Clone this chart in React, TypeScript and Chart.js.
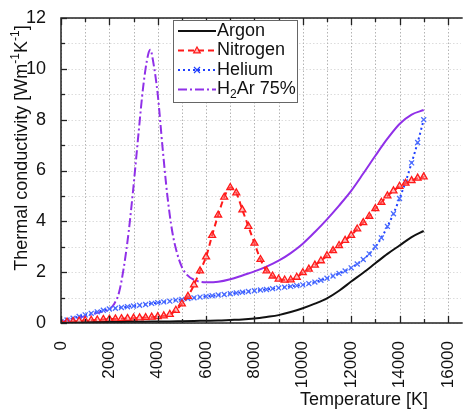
import React, { useEffect, useRef } from "react";
import { Chart, registerables } from "chart.js";
Chart.register(...registerables);

const FONT = "'Liberation Sans', Arial, Helvetica, sans-serif";

// Temperature grids [K]
const T_FINE = [0, 250, 500, 750, 1000, 1250, 1500, 1750, 2000, 2250, 2500, 2750, 3000, 3250, 3500, 3750, 4000, 4250, 4500, 4750, 5000, 5250, 5500, 5750, 6000, 6250, 6500, 6750, 7000, 7250, 7500, 7750, 8000, 8250, 8500, 8750, 9000, 9250, 9500, 9750, 10000, 10250, 10500, 10750, 11000, 11250, 11500, 11750, 12000, 12250, 12500, 12750, 13000, 13250, 13500, 13750, 14000, 14250, 14500, 14750, 15000];
const T_ARGON = [0, 500, 1000, 1500, 2000, 2500, 3000, 3500, 4000, 4500, 5000, 5500, 6000, 6500, 7000, 7500, 8000, 8500, 9000, 9500, 10000, 10500, 11000, 11500, 12000, 12500, 13000, 13500, 14000, 14500, 15000];
const T_H2AR = [0, 500, 1000, 1500, 2000, 2200, 2400, 2600, 2800, 3000, 3200, 3400, 3600, 3700, 3800, 4000, 4200, 4400, 4600, 4800, 5000, 5200, 5500, 6000, 6500, 7000, 7500, 8000, 8500, 9000, 9500, 10000, 10500, 11000, 11500, 12000, 12500, 13000, 13500, 14000, 14500, 15000];

// Thermal conductivity [W m^-1 K^-1]
const argon = [0.0, 0.01, 0.02, 0.03, 0.04, 0.04, 0.05, 0.05, 0.06, 0.06, 0.07, 0.08, 0.09, 0.1, 0.12, 0.14, 0.18, 0.24, 0.31, 0.43, 0.58, 0.76, 0.97, 1.27, 1.63, 1.98, 2.35, 2.72, 3.05, 3.38, 3.62];
const nitrogen = [0.02, 0.04, 0.06, 0.08, 0.1, 0.11, 0.12, 0.14, 0.15, 0.16, 0.17, 0.18, 0.19, 0.2, 0.21, 0.23, 0.25, 0.28, 0.34, 0.5, 0.75, 1.05, 1.5, 2.05, 2.6, 3.45, 4.25, 4.95, 5.33, 5.12, 4.45, 3.8, 3.14, 2.5, 2.05, 1.85, 1.73, 1.69, 1.7, 1.8, 1.98, 2.12, 2.28, 2.45, 2.65, 2.85, 3.05, 3.25, 3.45, 3.7, 3.95, 4.2, 4.5, 4.75, 5.0, 5.2, 5.38, 5.5, 5.6, 5.7, 5.75];
const helium = [0.05, 0.12, 0.19, 0.26, 0.32, 0.38, 0.44, 0.5, 0.55, 0.58, 0.61, 0.64, 0.67, 0.7, 0.73, 0.77, 0.8, 0.83, 0.86, 0.9, 0.93, 0.96, 0.99, 1.02, 1.05, 1.07, 1.1, 1.12, 1.15, 1.18, 1.21, 1.24, 1.27, 1.3, 1.32, 1.35, 1.38, 1.41, 1.44, 1.47, 1.5, 1.55, 1.61, 1.68, 1.76, 1.85, 1.95, 2.05, 2.17, 2.32, 2.5, 2.72, 3.0, 3.35, 3.8, 4.3, 4.9, 5.55, 6.3, 7.1, 8.0];
const h2ar = [0.05, 0.15, 0.27, 0.4, 0.55, 0.75, 1.2, 2.2, 3.6, 5.4, 7.4, 9.3, 10.55, 10.75, 10.35, 9.0, 6.9, 5.0, 3.6, 2.75, 2.2, 1.9, 1.7, 1.6, 1.62, 1.72, 1.87, 2.03, 2.22, 2.45, 2.75, 3.12, 3.58, 4.08, 4.62, 5.2, 5.88, 6.58, 7.25, 7.83, 8.2, 8.38];

const LABELS = ["Argon", "Nitrogen", "Helium", "H₂Ar 75%"];
const COLORS = ["#111111", "#ff1a1a", "#2040ff", "#9030e8"];

const X_TICKS = [0, 2000, 4000, 6000, 8000, 10000, 12000, 14000, 16000];
const X_MINOR = [0, 1000, 2000, 3000, 4000, 5000, 6000, 7000, 8000, 9000, 10000, 11000, 12000, 13000, 14000, 15000, 16000];
const Y_TICKS = [0, 2, 4, 6, 8, 10, 12];
const Y_MINOR = [0, 1, 2, 3, 4, 5, 6, 7, 8, 9, 10, 11, 12];

const X_TITLE = "Temperature [K]";
const Y_TITLE_PARTS = [
  { t: "Thermal conductivity [Wm", sup: false },
  { t: "-1", sup: true },
  { t: "K", sup: false },
  { t: "-1", sup: true },
  { t: "]", sup: false },
];

const DASH_N = [6, 4];
const DASH_HE = [2, 3];
const DASH_H2 = [9, 3, 2, 3];

function toXY(xs: number[], ys: number[]) {
  return xs.map((x, i) => ({ x, y: ys[i] }));
}

function drawTriangle(ctx: CanvasRenderingContext2D, x: number, y: number, r: number, color: string) {
  ctx.save();
  ctx.setLineDash([]);
  ctx.beginPath();
  ctx.moveTo(x, y - r);
  ctx.lineTo(x + r * 0.95, y + r * 0.7);
  ctx.lineTo(x - r * 0.95, y + r * 0.7);
  ctx.closePath();
  ctx.fillStyle = "rgba(255,120,120,0.5)";
  ctx.fill();
  ctx.strokeStyle = color;
  ctx.lineWidth = 1.2;
  ctx.stroke();
  ctx.restore();
}

function drawCross(ctx: CanvasRenderingContext2D, x: number, y: number, r: number, color: string) {
  ctx.save();
  ctx.setLineDash([]);
  ctx.strokeStyle = color;
  ctx.lineWidth = 1.2;
  ctx.beginPath();
  ctx.moveTo(x - r, y - r);
  ctx.lineTo(x + r, y + r);
  ctx.moveTo(x + r, y - r);
  ctx.lineTo(x - r, y + r);
  ctx.stroke();
  ctx.restore();
}

const framePlugin = {
  id: "framePlugin",
  beforeDatasetsDraw(chart: any) {
    const { ctx, chartArea: a, scales } = chart;
    const x = scales.x, y = scales.y;
    ctx.save();
    ctx.lineWidth = 1;
    ctx.strokeStyle = "#dcdcdc";
    ctx.setLineDash([1.5, 2]);
    Y_MINOR.forEach((v) => {
      const py = Math.round(y.getPixelForValue(v)) + 0.5;
      ctx.beginPath();
      ctx.moveTo(a.left, py);
      ctx.lineTo(a.right, py);
      ctx.stroke();
    });
    ctx.strokeStyle = "#b4b4b4";
    ctx.setLineDash([1.5, 2]);
    X_MINOR.forEach((v) => {
      const px = Math.round(x.getPixelForValue(v)) + 0.5;
      ctx.beginPath();
      ctx.moveTo(px, a.top);
      ctx.lineTo(px, a.bottom);
      ctx.stroke();
    });
    ctx.restore();
  },
  afterDatasetsDraw(chart: any) {
    const { ctx, chartArea: a, scales } = chart;
    const x = scales.x, y = scales.y;
    ctx.save();
    ctx.setLineDash([]);
    ctx.strokeStyle = "#222";
    ctx.lineWidth = 1.5;
    ctx.beginPath();
    ctx.moveTo(a.right + 2, a.top);
    ctx.lineTo(a.left, a.top);
    ctx.lineTo(a.left, a.bottom);
    ctx.lineTo(a.right + 2, a.bottom);
    ctx.stroke();
    ctx.lineWidth = 1.3;
    X_MINOR.forEach((v) => {
      const px = Math.round(x.getPixelForValue(v)) + 0.5;
      const len = v % 2000 === 0 ? 7 : 4;
      ctx.beginPath();
      ctx.moveTo(px, a.bottom);
      ctx.lineTo(px, a.bottom - len);
      ctx.moveTo(px, a.top);
      ctx.lineTo(px, a.top + len);
      ctx.stroke();
    });
    Y_MINOR.forEach((v) => {
      const py = Math.round(y.getPixelForValue(v)) + 0.5;
      const len = v % 2 === 0 ? 6 : 4;
      ctx.beginPath();
      ctx.moveTo(a.left, py);
      ctx.lineTo(a.left + len, py);
      ctx.stroke();
    });
    ctx.restore();
  },
  afterDraw(chart: any) {
    const { ctx } = chart;
    ctx.save();
    // Legend
    const bx = 173, by = 20, bw = 124, bh = 82;
    ctx.setLineDash([]);
    ctx.fillStyle = "#ffffff";
    ctx.fillRect(bx, by, bw, bh);
    ctx.strokeStyle = "#666";
    ctx.lineWidth = 1;
    ctx.strokeRect(bx + 0.5, by + 0.5, bw, bh);
    const rows = [31, 50.5, 70, 89.5];
    const dashes = [[], DASH_N, DASH_HE, DASH_H2];
    chart.data.datasets.forEach((ds: any, i: number) => {
      const ry = rows[i];
      ctx.save();
      ctx.strokeStyle = COLORS[i];
      ctx.lineWidth = 2;
      ctx.setLineDash(dashes[i]);
      ctx.beginPath();
      ctx.moveTo(178, ry);
      ctx.lineTo(216, ry);
      ctx.stroke();
      ctx.restore();
      if (i === 1) drawTriangle(ctx, 197, ry, 3.5, COLORS[1]);
      if (i === 2) drawCross(ctx, 197, ry, 3, COLORS[2]);
      ctx.fillStyle = "#111";
      ctx.textBaseline = "middle";
      ctx.textAlign = "left";
      ctx.font = `18px ${FONT}`;
      const label: string = ds.label;
      if (label.indexOf("₂") >= 0) {
        const [pre, post] = label.split("₂");
        ctx.fillText(pre, 217, ry);
        let cx = 217 + ctx.measureText(pre).width;
        ctx.font = `12px ${FONT}`;
        ctx.fillText("2", cx, ry + 5);
        cx += ctx.measureText("2").width;
        ctx.font = `18px ${FONT}`;
        ctx.fillText(post, cx, ry);
      } else {
        ctx.fillText(label, 217, ry);
      }
    });
    // X title
    ctx.fillStyle = "#111";
    ctx.font = `18px ${FONT}`;
    ctx.textAlign = "center";
    ctx.textBaseline = "middle";
    ctx.fillText(X_TITLE, 364, 400);
    // Y title (rotated)
    ctx.translate(22, 148);
    ctx.rotate(-Math.PI / 2);
    let total = 0;
    Y_TITLE_PARTS.forEach((p) => {
      ctx.font = `${p.sup ? 12 : 18}px ${FONT}`;
      total += ctx.measureText(p.t).width;
    });
    let cx = -total / 2;
    ctx.textAlign = "left";
    Y_TITLE_PARTS.forEach((p) => {
      ctx.font = `${p.sup ? 12 : 18}px ${FONT}`;
      ctx.fillText(p.t, cx, p.sup ? -6 : 0);
      cx += ctx.measureText(p.t).width;
    });
    ctx.restore();
  },
};

export default function App() {
  const ref = useRef<HTMLCanvasElement>(null);
  useEffect(() => {
    if (!ref.current) return;
    const chart = new Chart(ref.current, {
      type: "line",
      data: {
        datasets: [
          {
            label: LABELS[0],
            data: toXY(T_ARGON, argon),
            borderColor: COLORS[0],
            borderWidth: 2,
            pointRadius: 0,
            cubicInterpolationMode: "monotone",
          },
          {
            label: LABELS[1],
            data: toXY(T_FINE, nitrogen),
            borderColor: COLORS[1],
            borderWidth: 2,
            borderDash: DASH_N,
            pointStyle: "triangle",
            pointRadius: 4,
            pointBorderWidth: 1.3,
            pointBorderColor: COLORS[1],
            pointBackgroundColor: "rgba(255,120,120,0.5)",
            cubicInterpolationMode: "monotone",
          },
          {
            label: LABELS[2],
            data: toXY(T_FINE, helium),
            borderColor: COLORS[2],
            borderWidth: 2,
            borderDash: DASH_HE,
            pointStyle: "crossRot",
            pointRadius: 3.5,
            pointBorderWidth: 1.3,
            pointBorderColor: "#4a6cff",
            cubicInterpolationMode: "monotone",
          },
          {
            label: LABELS[3],
            data: toXY(T_H2AR, h2ar),
            borderColor: COLORS[3],
            borderWidth: 2,
            borderDash: [],
            pointRadius: 0,
            cubicInterpolationMode: "monotone",
            segment: {
              borderDash: (c: any) => (c.p0.parsed.x < 5800 ? DASH_H2 : []),
            },
          },
        ],
      },
      options: {
        animation: false,
        responsive: false,
        devicePixelRatio: 1,
        layout: { padding: { top: 18, right: 0, left: 0, bottom: 0 } },
        plugins: { legend: { display: false }, tooltip: { enabled: false } },
        scales: {
          x: {
            type: "linear",
            min: 0,
            max: 16530,
            grid: { display: false },
            border: { display: false },
            afterBuildTicks: (s: any) => {
              s.ticks = X_TICKS.map((v) => ({ value: v }));
            },
            afterFit: (s: any) => {
              s.height = 87;
              s.paddingLeft = 0;
              s.paddingRight = 0;
            },
            ticks: {
              autoSkip: false,
              minRotation: 90,
              maxRotation: 90,
              padding: 10,
              color: "#111",
              font: { family: FONT, size: 17 },
              callback: (v: any) => String(v),
            },
          },
          y: {
            type: "linear",
            min: 0,
            max: 12,
            grid: { display: false },
            border: { display: false },
            afterBuildTicks: (s: any) => {
              s.ticks = Y_TICKS.map((v) => ({ value: v }));
            },
            afterFit: (s: any) => {
              s.width = 61;
              s.paddingTop = 0;
              s.paddingBottom = 0;
            },
            ticks: {
              padding: 7,
              color: "#111",
              font: { family: FONT, size: 18 },
            },
          },
        },
      },
      plugins: [framePlugin],
    } as any);
    return () => chart.destroy();
  }, []);
  return (
    <div style={{ position: "fixed", left: 0, top: 0, width: 466, height: 410, background: "#fff", overflow: "hidden" }}>
      <canvas ref={ref} width={466} height={410} style={{ display: "block" }} />
    </div>
  );
}
